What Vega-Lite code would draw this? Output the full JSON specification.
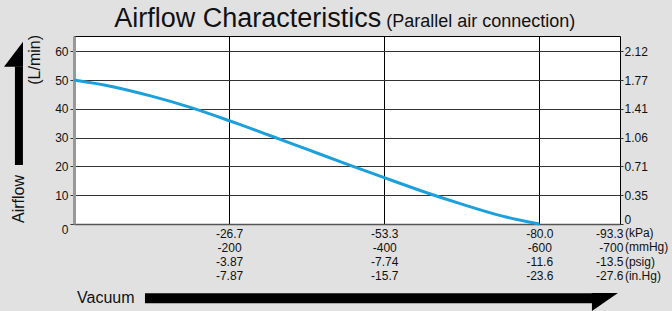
{
  "$schema": "https://vega.github.io/schema/vega-lite/v6.json",
  "width": 546,
  "height": 188,
  "autosize": {"type": "none"},
  "padding": {"left": 74, "top": 36, "right": 52, "bottom": 87},
  "background": "#e1e1e1",
  "config": {
    "view": {"stroke": "#000", "strokeWidth": 1, "fill": "#ffffff"},
    "font": "Liberation Sans",
    "axis": {"labelFont": "Liberation Sans", "labelColor": "#111111"},
    "text": {"font": "Liberation Sans", "color": "#111111"}
  },
  "data": {
    "values": [
      {"vacuum": 0, "flow": 50},
      {"vacuum": 50, "flow": 47.7},
      {"vacuum": 100, "flow": 44.4},
      {"vacuum": 150, "flow": 40.5},
      {"vacuum": 200, "flow": 35.9},
      {"vacuum": 250, "flow": 31.0},
      {"vacuum": 300, "flow": 26.0},
      {"vacuum": 350, "flow": 21.0},
      {"vacuum": 400, "flow": 16.1},
      {"vacuum": 450, "flow": 11.3},
      {"vacuum": 500, "flow": 6.9},
      {"vacuum": 550, "flow": 2.9},
      {"vacuum": 600, "flow": 0}
    ]
  },
  "layer": [
    {
      "mark": {"type": "line", "color": "#1BA0DC", "strokeWidth": 3, "interpolate": "monotone"},
      "encoding": {
        "x": {
          "field": "vacuum", "type": "quantitative",
          "scale": {"domain": [0, 704], "nice": false, "zero": false},
          "axis": {
            "values": [200, 400, 600, 700],
            "title": null,
            "grid": true,
            "gridColor": {"condition": {"test": "datum.value == 700", "value": "transparent"}, "value": "#000000"},
            "gridWidth": 1,
            "ticks": false,
            "domainColor": "#555555",
            "domainWidth": 1.5,
            "labelFontSize": 12,
            "labelPadding": 4,
            "labelLineHeight": 14.3,
            "labelBaseline": "top",
            "labelFlush": false,
            "labelOverlap": false,
            "labelBound": false,
            "labelAlign": {"condition": {"test": "datum.value == 700", "value": "right"}, "value": "center"},
            "labelOffset": {"condition": {"test": "datum.value == 700", "value": 6}, "value": 0},
            "labelExpr": "datum.value == 200 ? ['-26.7','-200','-3.87','-7.87'] : datum.value == 400 ? ['-53.3','-400','-7.74','-15.7'] : datum.value == 600 ? ['-80.0','-600','-11.6','-23.6'] : ['-93.3','-700','-13.5','-27.6']"
          }
        },
        "y": {
          "field": "flow", "type": "quantitative",
          "scale": {"domain": [0, 65.3], "nice": false},
          "axis": {
            "values": [0, 10, 20, 30, 40, 50, 60],
            "title": null,
            "grid": true,
            "gridColor": "#333333",
            "gridWidth": 1,
            "domainColor": "#999999",
            "domainWidth": 3,
            "tickSize": 4,
            "tickColor": "#333333",
            "labelFontSize": 12,
            "labelPadding": 2,
            "labelOffset": {"condition": {"test": "datum.value == 0", "value": 5}, "value": 0}
          }
        }
      }
    },
    {
      "mark": {"type": "line", "opacity": 0},
      "encoding": {
        "x": {"field": "vacuum", "type": "quantitative"},
        "y": {
          "field": "flow", "type": "quantitative",
          "axis": {
            "orient": "right",
            "values": [0, 10, 20, 30, 40, 50, 60],
            "title": null,
            "grid": false,
            "domain": false,
            "tickSize": 3,
            "tickColor": "#333333",
            "labelFontSize": 12,
            "labelPadding": 1,
            "labelOffset": {"condition": {"test": "datum.value == 0", "value": -5}, "value": 0},
            "labelExpr": "['0','0.35','0.71','1.06','1.41','1.77','2.12'][round(datum.value/10)]"
          }
        }
      }
    },
    {
      "data": {"values": [{}]},
      "mark": {"type": "text", "text": ["(kPa)", "(mmHg)", "(psig)", "(in.Hg)"], "align": "left", "baseline": "top", "dx": 8, "dy": 4, "fontSize": 12, "lineHeight": 14.3},
      "encoding": {
        "x": {"datum": 700, "type": "quantitative"},
        "y": {"datum": 0, "type": "quantitative", "axis": null}
      }
    },
    {
      "data": {"values": [{}]},
      "mark": {"type": "text", "text": "Airflow Characteristics", "align": "right", "baseline": "alphabetic", "dx": -3, "dy": -9, "fontSize": 27},
      "encoding": {
        "x": {"datum": 400, "type": "quantitative"},
        "y": {"datum": 65.3, "type": "quantitative", "axis": null}
      }
    },
    {
      "data": {"values": [{}]},
      "mark": {"type": "text", "text": "(Parallel air connection)", "align": "left", "baseline": "alphabetic", "dx": 2, "dy": -9, "fontSize": 18},
      "encoding": {
        "x": {"datum": 400, "type": "quantitative"},
        "y": {"datum": 65.3, "type": "quantitative", "axis": null}
      }
    },
    {
      "data": {"values": [{}]},
      "mark": {"type": "rule", "color": "#000000", "strokeWidth": 8, "strokeCap": "butt"},
      "encoding": {
        "x": {"datum": -71, "type": "quantitative"},
        "y": {"datum": 20.5, "type": "quantitative", "axis": null},
        "y2": {"datum": 54.7}
      }
    },
    {
      "data": {"values": [{}]},
      "mark": {"type": "point", "shape": "M0.76,-1L0.76,1L-0.76,1Z", "size": 625, "filled": true, "color": "#000000", "opacity": 1, "strokeWidth": 0},
      "encoding": {
        "x": {"datum": -78, "type": "quantitative"},
        "y": {"datum": 59.0, "type": "quantitative", "axis": null}
      }
    },
    {
      "data": {"values": [{}]},
      "mark": {"type": "rule", "color": "#000000", "strokeWidth": 10, "strokeCap": "butt"},
      "encoding": {
        "x": {"datum": 91.5, "type": "quantitative"},
        "x2": {"datum": 668},
        "y": {"datum": -25.8, "type": "quantitative", "axis": null}
      }
    },
    {
      "data": {"values": [{}]},
      "mark": {"type": "point", "shape": "M-1,-0.69L1,-0.69L-1,0.69Z", "size": 676, "filled": true, "color": "#000000", "opacity": 1, "strokeWidth": 0},
      "encoding": {
        "x": {"datum": 684.6, "type": "quantitative"},
        "y": {"datum": -27.1, "type": "quantitative", "axis": null}
      }
    },
    {
      "data": {"values": [{}]},
      "mark": {"type": "text", "text": "Vacuum", "align": "left", "baseline": "middle", "dx": 3, "fontSize": 16},
      "encoding": {
        "x": {"datum": 0, "type": "quantitative"},
        "y": {"datum": -25.8, "type": "quantitative", "axis": null}
      }
    },
    {
      "data": {"values": [{}]},
      "mark": {"type": "text", "text": "Airflow", "align": "center", "baseline": "middle", "angle": 270, "fontSize": 16},
      "encoding": {
        "x": {"datum": -71, "type": "quantitative"},
        "y": {"datum": 8.7, "type": "quantitative", "axis": null}
      }
    },
    {
      "data": {"values": [{}]},
      "mark": {"type": "text", "text": "(L/min)", "align": "center", "baseline": "middle", "angle": 270, "fontSize": 16},
      "encoding": {
        "x": {"datum": -50, "type": "quantitative"},
        "y": {"datum": 57, "type": "quantitative", "axis": null}
      }
    }
  ],
  "resolve": {"axis": {"y": "independent"}}
}
